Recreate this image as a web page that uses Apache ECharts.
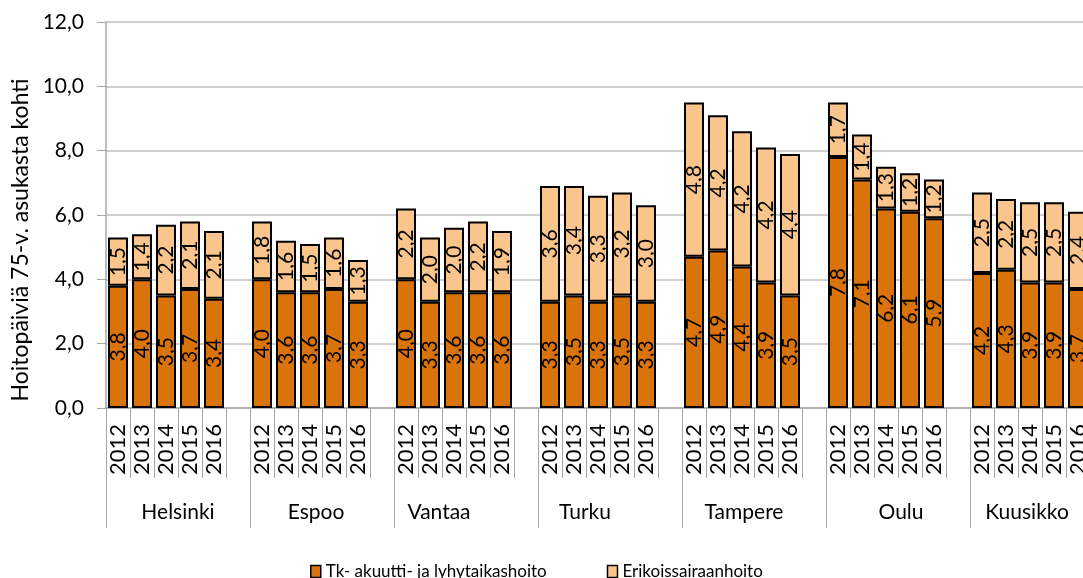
<!DOCTYPE html>
<html>
<head>
<meta charset="utf-8">
<script src="https://cdn.jsdelivr.net/npm/echarts@6/dist/echarts.min.js"></script>
<style>
  html, body { margin: 0; padding: 0; background: #fff; }
  #chart { width: 1083px; height: 578px; }
</style>
</head>
<body>
<div id="chart"></div>
<script>
const cities = ['Helsinki', 'Espoo', 'Vantaa', 'Turku', 'Tampere', 'Oulu', 'Kuusikko'];
const years = ['2012', '2013', '2014', '2015', '2016'];

// Tk- akuutti- ja lyhytaikashoito, per city 2012..2016
const tkValues = [
  [3.8, 4.0, 3.5, 3.7, 3.4],
  [4.0, 3.6, 3.6, 3.7, 3.3],
  [4.0, 3.3, 3.6, 3.6, 3.6],
  [3.3, 3.5, 3.3, 3.5, 3.3],
  [4.7, 4.9, 4.4, 3.9, 3.5],
  [7.8, 7.1, 6.2, 6.1, 5.9],
  [4.2, 4.3, 3.9, 3.9, 3.7]
];
// Erikoissairaanhoito, per city 2012..2016
const erikValues = [
  [1.5, 1.4, 2.2, 2.1, 2.1],
  [1.8, 1.6, 1.5, 1.6, 1.3],
  [2.2, 2.0, 2.0, 2.2, 1.9],
  [3.6, 3.4, 3.3, 3.2, 3.0],
  [4.8, 4.2, 4.2, 4.2, 4.4],
  [1.7, 1.4, 1.3, 1.2, 1.2],
  [2.5, 2.2, 2.5, 2.5, 2.4]
];

const seriesNames = ['Tk- akuutti- ja lyhytaikashoito', 'Erikoissairaanhoito'];
const colors = ['#d9730b', '#fac58c'];
const FONT = 'Lato';

// flatten: 5 years + one empty slot per city
let yearSlots = [], tkFlat = [], erikFlat = [];
for (let c = 0; c < cities.length; c++) {
  for (let y = 0; y < years.length; y++) {
    yearSlots.push(years[y]);
    tkFlat.push(tkValues[c][y]);
    erikFlat.push(erikValues[c][y]);
  }
  yearSlots.push('');
  tkFlat.push('-');
  erikFlat.push('-');
}

const fmt = v => v.toFixed(1).replace('.', ',');

// city names are not quite centred under their groups in the original
const cityShift = [0, -6, -27, -25, -10, 3, -15];
const cityItems = cities.map((name, i) => {
  const s = cityShift[i];
  return {
    value: name,
    textStyle: { padding: s < 0 ? [0, -2 * s, 0, 0] : [0, 0, 0, 2 * s] }
  };
});

const chart = echarts.init(document.getElementById('chart'));

function barSeries(i, data) {
  return {
    name: seriesNames[i],
    type: 'bar',
    stack: 'total',
    xAxisIndex: 0,
    barWidth: 20,
    data: data,
    itemStyle: { color: colors[i], borderColor: '#000', borderWidth: 2 },
    label: {
      show: true,
      position: 'inside',
      rotate: 90,
      fontFamily: FONT,
      fontSize: 21,
      color: '#000',
      formatter: p => fmt(p.value)
    }
  };
}

chart.setOption({
  animation: false,
  textStyle: { fontFamily: FONT },
  grid: { left: 106, top: 22, width: 1008, height: 386, containLabel: false, outerBoundsMode: 'none' },
  legend: {
    left: 305,
    top: 558,
    itemGap: 60,
    itemWidth: 10,
    itemHeight: 12,
    icon: 'rect',
    textStyle: { fontFamily: FONT, fontSize: 17, color: '#000' },
    data: seriesNames.map((n, i) => ({
      name: n,
      itemStyle: { color: colors[i], borderColor: '#000', borderWidth: 1.5 }
    }))
  },
  xAxis: [
    {
      type: 'category',
      position: 'bottom',
      data: yearSlots,
      axisLine: { lineStyle: { color: '#a6a6a6', width: 1.5 } },
      axisTick: { show: true, interval: 0, length: 70, lineStyle: { color: '#a6a6a6' } },
      axisLabel: { interval: 0, rotate: 90, margin: 16, fontFamily: FONT, fontSize: 22, color: '#000' }
    },
    {
      type: 'category',
      position: 'bottom',
      data: cityItems,
      axisLine: { show: false },
      axisTick: { show: true, interval: 0, length: 120, lineStyle: { color: '#a6a6a6' } },
      axisLabel: { interval: 0, margin: 94, fontFamily: FONT, fontSize: 21, color: '#000' }
    }
  ],
  yAxis: {
    type: 'value',
    min: 0,
    max: 12,
    interval: 2,
    name: 'Hoitopäiviä 75-v. asukasta kohti',
    nameLocation: 'middle',
    nameGap: 73,
    nameRotate: 90,
    nameTextStyle: { fontFamily: FONT, fontSize: 23, color: '#000', padding: [0, 50, 0, 0] },
    axisLine: { show: true, lineStyle: { color: '#a6a6a6', width: 1.5 } },
    axisTick: { show: true, length: 9, lineStyle: { color: '#a6a6a6' } },
    axisLabel: { margin: 22, fontFamily: FONT, fontSize: 21, color: '#000', formatter: v => fmt(v) },
    splitLine: { lineStyle: { color: '#bfbfbf', width: 1.5 } }
  },
  series: [barSeries(0, tkFlat), barSeries(1, erikFlat)]
});
</script>
</body>
</html>
